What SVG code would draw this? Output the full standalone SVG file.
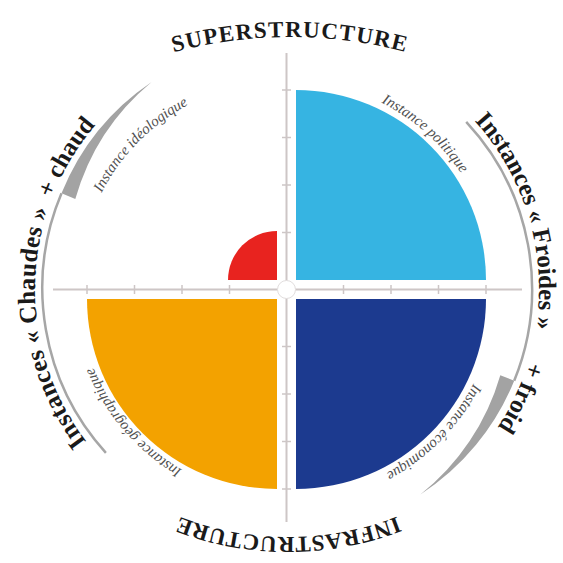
<svg xmlns="http://www.w3.org/2000/svg" xmlns:xlink="http://www.w3.org/1999/xlink" width="563" height="563" viewBox="0 0 563 563">
<style>
.axis{stroke:#cdc6c6;stroke-width:2;fill:none}
.tick{stroke:#cdc6c6;stroke-width:1.5}
.arc{stroke:#a6a6a6;stroke-width:2.5;fill:none}
.wedge{fill:#a3a3a3}
.big{font-family:"Liberation Serif","Times New Roman",serif;font-weight:bold;font-size:25px;fill:#1a1a1a}
.title{font-family:"Liberation Serif","Times New Roman",serif;font-weight:bold;font-size:23px;fill:#1a1a1a}
.lab{font-family:"Liberation Serif","Times New Roman",serif;font-style:italic;font-size:15px;fill:#505050}
</style>
<defs>
<path id="cBig" d="M539,289 A252,252 0 1 1 35,289 A252,252 0 1 1 539,289 A252,252 0 1 1 35,289 A252,252 0 1 1 539,289"/>
<path id="cSmall" d="M496,289 A209,209 0 1 1 78,289 A209,209 0 1 1 496,289 A209,209 0 1 1 78,289 A209,209 0 1 1 496,289"/>
<path id="cTop" d="M65,97.3 A450,450 0 0 1 515,97.3"/>
<path id="cBottom" d="M438,496.8 A300,300 0 0 1 138,496.8"/>
</defs>
<rect width="563" height="563" fill="#ffffff"/>

<g id="axes">
<line class="axis" x1="53" y1="289.5" x2="522" y2="289.5"/>
<line class="axis" x1="286.5" y1="53" x2="286.5" y2="522"/>
<g class="tick">
<line x1="282" y1="90" x2="291" y2="90"/>
<line x1="282" y1="137.5" x2="291" y2="137.5"/>
<line x1="282" y1="185" x2="291" y2="185"/>
<line x1="282" y1="232.5" x2="291" y2="232.5"/>
<line x1="282" y1="346.5" x2="291" y2="346.5"/>
<line x1="282" y1="394" x2="291" y2="394"/>
<line x1="282" y1="441.5" x2="291" y2="441.5"/>
<line x1="282" y1="489" x2="291" y2="489"/>
<line x1="87" y1="285" x2="87" y2="294"/>
<line x1="134.5" y1="285" x2="134.5" y2="294"/>
<line x1="182" y1="285" x2="182" y2="294"/>
<line x1="229.5" y1="285" x2="229.5" y2="294"/>
<line x1="343.5" y1="285" x2="343.5" y2="294"/>
<line x1="391" y1="285" x2="391" y2="294"/>
<line x1="438.5" y1="285" x2="438.5" y2="294"/>
<line x1="486" y1="285" x2="486" y2="294"/>
</g>
<circle cx="286.5" cy="289.5" r="9" fill="#ffffff" stroke="#e2dede" stroke-width="1"/>
</g>

<g id="quadrant-politique">
<path d="M296,280 L296,90 A190,190 0 0 1 486,280 Z" fill="#36b4e2"/>
</g>
<g id="quadrant-economique">
<path d="M296,299 L486,299 A190,190 0 0 1 296,489 Z" fill="#1c3a8f"/>
</g>
<g id="quadrant-geographique">
<path d="M277,299 L277,489 A190,190 0 0 1 87,299 Z" fill="#f3a200"/>
</g>
<g id="quadrant-ideologique">
<path d="M277,280 L228,280 A49,49 0 0 1 277,231 Z" fill="#e8231f"/>
</g>

<g id="connectors">
<path class="arc" d="M105.9,452.9 A245,245 0 0 1 61.5,193.3"/>
<path class="wedge" d="M61.5,193.3 A245,245 0 0 1 151.6,82 A236,236 0 0 0 75.3,199.1 Z"/>
<path class="arc" d="M466.2,121.9 A245,245 0 0 1 514.2,380.8"/>
<path class="wedge" d="M514.2,380.8 A245,245 0 0 1 420.4,494.5 A236,236 0 0 0 500.3,375.2 Z"/>
</g>

<g id="label-superstructure"><text class="title" text-anchor="middle" style="letter-spacing:1.3px"><textPath xlink:href="#cTop" startOffset="50%">SUPERSTRUCTURE</textPath></text></g>
<g id="label-infrastructure"><text class="title" text-anchor="middle" style="letter-spacing:0.6px"><textPath xlink:href="#cBottom" startOffset="50%">INFRASTRUCTURE</textPath></text></g>
<g id="label-froides"><text class="big" text-anchor="middle"><textPath xlink:href="#cBig" startOffset="1510.5">Instances « Froides »</textPath></text></g>
<g id="label-chaudes"><text class="big" text-anchor="middle" style="letter-spacing:0.4px"><textPath xlink:href="#cBig" startOffset="750">Instances « Chaudes »</textPath></text></g>
<g id="label-plus-chaud"><text class="big" text-anchor="middle"><textPath xlink:href="#cBig" startOffset="927">+ chaud</textPath></text></g>
<g id="label-plus-froid"><text class="big" text-anchor="middle"><textPath xlink:href="#cBig" startOffset="110">+ froid</textPath></text></g>

<g id="label-ideologique"><text class="lab" text-anchor="middle"><textPath xlink:href="#cSmall" startOffset="818.9">Instance idéologique</textPath></text></g>
<g id="label-politique"><text class="lab" text-anchor="middle"><textPath xlink:href="#cSmall" startOffset="1136.3">Instance politique</textPath></text></g>
<g id="label-economique"><text class="lab" text-anchor="middle"><textPath xlink:href="#cSmall" startOffset="161.6">Instance économique</textPath></text></g>
<g id="label-geographique"><text class="lab" text-anchor="middle"><textPath xlink:href="#cSmall" startOffset="507.0">Instance géographique</textPath></text></g>
</svg>
